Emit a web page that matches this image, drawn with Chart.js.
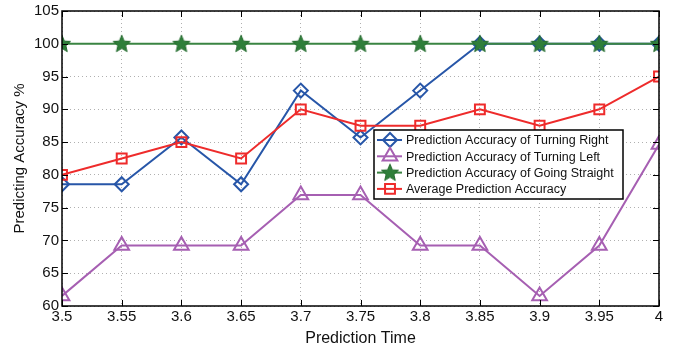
<!DOCTYPE html>
<html>
<head>
<meta charset="utf-8">
<script src="https://cdn.jsdelivr.net/npm/chart.js@4/dist/chart.umd.min.js"></script>
<style>
  html, body { margin: 0; padding: 0; background: #fff; }
  #wrap { width: 679px; height: 348px; }
</style>
</head>
<body>
<div id="wrap"><canvas id="grafico"></canvas></div>
<script>
// datos
const tiempos = [3.5, 3.55, 3.6, 3.65, 3.7, 3.75, 3.8, 3.85, 3.9, 3.95, 4];
const giroDerecha = [78.57, 78.57, 85.71, 78.57, 92.86, 85.71, 92.86, 100, 100, 100, 100];
const giroIzquierda = [61.54, 69.23, 69.23, 69.23, 76.92, 76.92, 69.23, 69.23, 61.54, 69.23, 84.62];
const recto = [100, 100, 100, 100, 100, 100, 100, 100, 100, 100, 100];
const promedio = [80, 82.5, 85, 82.5, 90, 87.5, 87.5, 90, 87.5, 90, 95];
const ticksX = [3.5, 3.55, 3.6, 3.65, 3.7, 3.75, 3.8, 3.85, 3.9, 3.95, 4];
const ticksY = [60, 65, 70, 75, 80, 85, 90, 95, 100, 105];
const nombres = [
    'Prediction Accuracy of Turning Right',
    'Prediction Accuracy of Turning Left',
    'Prediction Accuracy of Going Straight',
    'Average Prediction Accuracy'
];

const FUENTE = '"Liberation Sans", Arial, sans-serif';

// estrella rellena (Chart.js no trae una de 5 puntas)
function hacerEstrella(r) {
    const c = document.createElement('canvas');
    const s = Math.ceil(r * 2 + 4);
    c.width = s; c.height = s;
    const g = c.getContext('2d');
    g.beginPath();
    for (let i = 0; i < 10; i++) {
        const rr = i % 2 === 0 ? r : r * 0.45;
        const a = -Math.PI / 2 + i * Math.PI / 5;
        const x = s / 2 + rr * Math.cos(a);
        const y = s / 2 + rr * Math.sin(a) + 0.5;
        if (i === 0) g.moveTo(x, y); else g.lineTo(x, y);
    }
    g.closePath();
    g.fillStyle = '#2f7f3a';
    g.fill();
    g.strokeStyle = '#246b2e';
    g.lineWidth = 1;
    g.stroke();
    return c;
}
const estrella = hacerEstrella(9);

function puntos(valores) {
    return valores.map((v, i) => ({ x: tiempos[i], y: v }));
}

const series = [
    { label: nombres[0], data: puntos(giroDerecha), borderColor: '#2756a8', pointStyle: 'rectRot', pointRadius: 7, order: 4 },
    { label: nombres[1], data: puntos(giroIzquierda), borderColor: '#a65fb2', pointStyle: 'triangle', pointRadius: 8.5, order: 3 },
    { label: nombres[2], data: puntos(recto), borderColor: '#3a8442', pointStyle: estrella, pointRadius: 9, order: 2 },
    { label: nombres[3], data: puntos(promedio), borderColor: '#ee2b2b', pointStyle: 'rect', pointRadius: 7, order: 1 }
];
series.forEach(s => {
    s.backgroundColor = 'rgba(255,255,255,0)';
    s.pointBackgroundColor = 'rgba(255,255,255,0)';
    s.pointBorderColor = s.borderColor;
    s.borderWidth = 2;
    s.pointBorderWidth = 2;
    s.tension = 0;
});

// marco, marcas hacia adentro y leyenda dentro del area
const marcoPlugin = {
    id: 'marco',
    afterDraw(chart) {
        const ctx = chart.ctx;
        const a = chart.chartArea;
        const sx = chart.scales.x, sy = chart.scales.y;
        ctx.save();
        ctx.strokeStyle = '#000';
        ctx.lineWidth = 1.5;
        ctx.strokeRect(a.left, a.top, a.right - a.left, a.bottom - a.top);
        ctx.lineWidth = 1;
        ticksX.forEach(t => {
            const x = Math.round(sx.getPixelForValue(t)) + 0.5;
            ctx.beginPath();
            ctx.moveTo(x, a.bottom); ctx.lineTo(x, a.bottom - 6);
            ctx.moveTo(x, a.top); ctx.lineTo(x, a.top + 6);
            ctx.stroke();
        });
        ticksY.forEach(t => {
            const y = Math.round(sy.getPixelForValue(t)) + 0.5;
            ctx.beginPath();
            ctx.moveTo(a.left, y); ctx.lineTo(a.left + 6, y);
            ctx.moveTo(a.right, y); ctx.lineTo(a.right - 6, y);
            ctx.stroke();
        });

        // leyenda
        const bx = 374, by = 130, bw = 249, bh = 69;
        ctx.fillStyle = '#fff';
        ctx.fillRect(bx, by, bw, bh);
        ctx.strokeStyle = '#000';
        ctx.lineWidth = 1.5;
        ctx.strokeRect(bx, by, bw, bh);
        ctx.font = '12.5px ' + FUENTE;
        ctx.textBaseline = 'middle';
        chart.data.datasets.forEach((ds, i) => {
            const y = by + 10 + i * 16.3;
            ctx.strokeStyle = ds.borderColor;
            ctx.lineWidth = 2;
            ctx.beginPath();
            ctx.moveTo(bx + 3, y); ctx.lineTo(bx + 28, y);
            ctx.stroke();
            ctx.fillStyle = 'rgba(255,255,255,0)';
            Chart.helpers.drawPoint(ctx, {
                pointStyle: ds.pointStyle,
                radius: ds.pointRadius,
                borderWidth: 2,
                rotation: 0
            }, bx + 16, y);
            ctx.fillStyle = '#111';
            ctx.fillText(ds.label, bx + 32, y + 1);
        });
        ctx.restore();
    }
};

const ctx = document.getElementById('grafico').getContext('2d');
const myChart = new Chart(ctx, {
    type: 'line',
    data: { datasets: series },
    options: {
        responsive: true,
        maintainAspectRatio: false,
        animation: false,
        layout: { padding: { left: 0, right: 20, top: 0, bottom: 0 } },
        plugins: {
            legend: { display: false },
            tooltip: { enabled: false }
        },
        scales: {
            x: {
                type: 'linear',
                min: 3.5,
                max: 4,
                afterBuildTicks: scale => { scale.ticks = ticksX.map(v => ({ value: v })); },
                afterFit: scale => { scale.height = 42; },
                ticks: {
                    color: '#111',
                    font: { family: FUENTE, size: 15 },
                    padding: 2,
                    maxRotation: 0,
                    callback: v => String(parseFloat(v.toFixed(2)))
                },
                grid: { color: '#b0b0b0', drawTicks: false },
                border: { display: false, dash: [1, 3] },
                title: {
                    display: true,
                    text: 'Prediction Time',
                    color: '#111',
                    font: { family: FUENTE, size: 16 },
                    padding: { top: 5, bottom: 0 }
                }
            },
            y: {
                min: 60,
                max: 105,
                afterBuildTicks: scale => { scale.ticks = ticksY.map(v => ({ value: v })); },
                afterFit: scale => {
                    scale.width = 62;
                    scale.paddingTop = 8;
                    scale.paddingBottom = 0;
                },
                ticks: {
                    color: '#111',
                    font: { family: FUENTE, size: 15, lineHeight: 1 },
                    padding: 3
                },
                grid: { color: '#b0b0b0', drawTicks: false },
                border: { display: false, dash: [1, 3] },
                title: {
                    display: true,
                    text: 'Predicting Accuracy %',
                    color: '#111',
                    font: { family: FUENTE, size: 15 },
                    padding: { top: 11, bottom: 0 }
                }
            }
        }
    },
    plugins: [marcoPlugin]
});
</script>
</body>
</html>
